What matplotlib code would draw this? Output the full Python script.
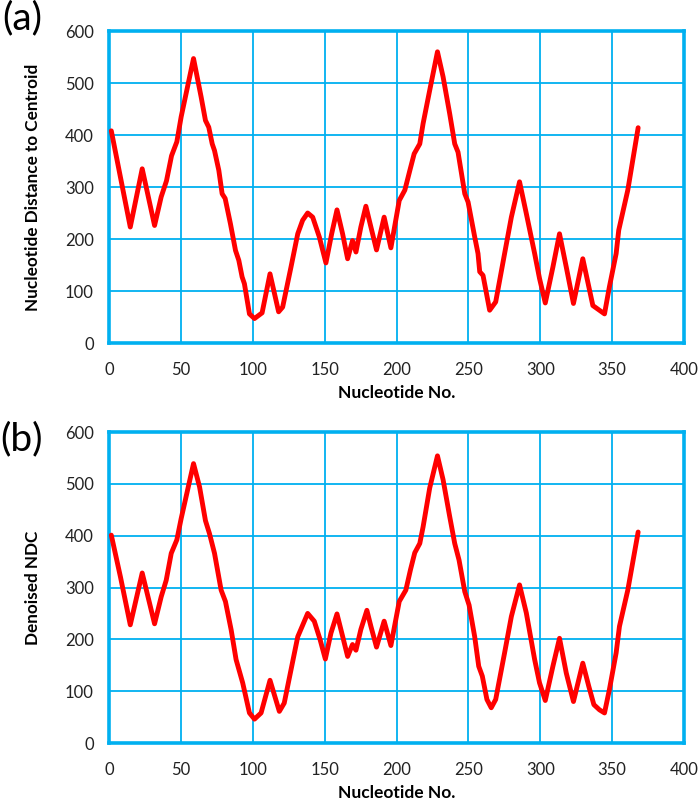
import matplotlib.pyplot as plt

plt.rcParams['font.family'] = ['Lato', 'DejaVu Sans']

# (a) raw nucleotide distance to centroid
x_raw = [1.6, 14.8, 23.1, 31.7, 36.3, 40.0, 43.5, 47.2, 50.2, 58.8, 64.1, 67.1, 69.4,
         71.8, 73.4, 76.4, 78.7, 80.8, 84.5, 88.0, 90.3, 92.6, 94.2, 97.7, 101.2,
         106.5, 112.0, 118.0, 120.8, 126.6, 131.3, 134.7, 138.2, 141.7, 146.3,
         150.9, 154.9, 158.6, 162.5, 166.0, 169.4, 171.8, 175.2, 178.7, 182.2,
         186.1, 191.4, 196.1, 201.9, 205.8, 209.3, 212.3, 216.2, 218.5, 223.1,
         228.5, 232.4, 237.0, 240.5, 242.8, 247.5, 249.8, 254.4, 256.7, 257.9,
         260.2, 264.8, 269.0, 275.2, 279.9, 285.6, 290.3, 296.1, 299.5, 303.5,
         308.8, 313.4, 318.1, 323.1, 329.6, 336.6, 344.7, 348.1, 352.8, 354.6,
         360.9, 368.1]
ndc_raw = [408, 223, 335, 226, 281, 312, 360, 387, 435, 547, 473, 428, 415,
           383, 370, 332, 287, 278, 229, 178, 159, 127, 114, 56, 47,
           58, 133, 60, 69, 146, 210, 236, 250, 242, 204,
           154, 210, 256, 210, 162, 197, 175, 223, 263, 223,
           179, 242, 183, 274, 294, 332, 364, 383, 422, 486,
           560, 512, 441, 383, 367, 287, 271, 204, 172, 137,
           130, 63, 79, 172, 242, 310, 249, 172, 124, 77,
           146, 210, 146, 76, 162, 72, 56, 108, 172, 217,
           294, 414]

# (b) denoised NDC
x_dn = [1.6, 8.0, 14.8, 23.1, 31.7, 36.3, 39.8, 43.3, 47.2, 50.2, 58.8, 63.0, 67.1,
        69.9, 73.4, 78.0, 81.0, 85.0, 88.4, 93.0, 97.7, 101.2, 105.8, 112.0,
        118.5, 121.9, 126.6, 131.3, 138.2, 142.8, 146.8, 150.5, 154.4, 158.6,
        162.5, 166.0, 169.4, 171.8, 175.2, 179.4, 182.2, 186.1, 191.4, 196.1,
        201.9, 206.5, 209.7, 212.7, 216.2, 218.5, 223.1, 228.5, 232.4, 237.0,
        240.5, 243.5, 247.5, 250.5, 254.4, 257.2, 259.7, 262.9, 265.9, 269.0,
        275.2, 279.9, 285.6, 290.3, 296.1, 299.5, 303.5, 308.8, 313.4, 318.1,
        323.1, 329.6, 333.8, 337.3, 341.2, 344.7, 348.1, 352.8, 355.1, 360.9,
        368.1]
ndc_dn = [401, 320, 228, 328, 230, 282, 314, 366, 392, 433, 539, 494, 429,
          404, 366, 295, 273, 218, 161, 116, 58, 46, 58, 121,
          61, 77, 141, 205, 250, 235, 200, 162, 212, 249,
          206, 167, 190, 179, 219, 256, 225, 185, 235, 188,
          273, 295, 334, 367, 385, 417, 492, 554, 508, 437,
          385, 353, 292, 266, 205, 148, 129, 84, 68, 84,
          174, 244, 305, 251, 161, 116, 82, 148, 202, 135,
          80, 154, 109, 74, 64, 58, 103, 174, 225, 295,
          407]

ylabels = ['Nucleotide Distance to Centroid', 'Denoised NDC']
panel_tags = ['(a)', '(b)']

blue = '#00b0f0'
fig = plt.figure(figsize=(7, 8.07), dpi=100)
W, H = 700, 807
boxes = [(109, 31, 684, 343), (109, 432, 684, 743)]
tag_y = [18, 439]
series = [(x_raw, ndc_raw), (x_dn, ndc_dn)]

for i, (box, (xs, ys)) in enumerate(zip(boxes, series)):
    l, t, r, b = box
    ax = fig.add_axes([l / W, 1 - b / H, (r - l) / W, (b - t) / H])
    ax.plot(xs, ys, color='#ff0000', lw=3.5, solid_joinstyle='round',
            solid_capstyle='round', zorder=3)
    ax.set_xlim(0, 400)
    ax.set_ylim(0, 600)
    ax.set_xticks(range(0, 401, 50))
    ax.set_yticks(range(0, 601, 100))
    ax.grid(True, color=blue, lw=1.3)
    ax.set_axisbelow(True)
    for s in ax.spines.values():
        s.set_color(blue)
        s.set_linewidth(2.6)
    ax.tick_params(length=0, labelsize=12, colors='#222222')
    ax.tick_params(axis='x', pad=14)
    ax.tick_params(axis='y', pad=11)
    ax.set_xlabel('Nucleotide No.', fontsize=12.5, fontweight='bold', labelpad=5)
    ax.set_ylabel(ylabels[i], fontsize=12.3, fontweight='bold')
    ax.yaxis.set_label_coords(-0.118, 0.5)
    fig.text(22 / W, 1 - tag_y[i] / H, panel_tags[i], fontsize=28,
             ha='center', va='center')

fig.savefig('out.png', dpi=100)
